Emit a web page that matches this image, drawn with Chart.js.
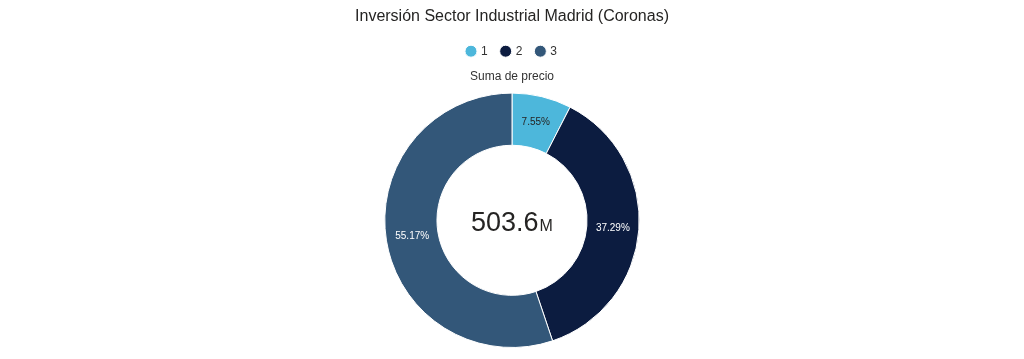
<!DOCTYPE html>
<html>
<head>
<meta charset="utf-8">
<script src="https://cdn.jsdelivr.net/npm/chart.js@4/dist/chart.umd.min.js"></script>
<style>
html,body{margin:0;padding:0;background:#fff;}
#wrap{width:1024px;height:359px;position:relative;}
</style>
</head>
<body>
<div id="wrap"><canvas id="c" width="1024" height="359"></canvas></div>
<script>
const categories = ['1', '2', '3'];
const values = [38.01, 187.78, 277.83]; // millions (Coronas)
const colors = ['#4DB7DB', '#0C1C40', '#335779'];
const labelColors = ['#252423', '#FFFFFF', '#FFFFFF'];
const titleText = 'Inversión Sector Industrial Madrid (Coronas)';
const subtitleText = 'Suma de precio';

Chart.defaults.font.family = '"Liberation Sans", Arial, sans-serif';
Chart.defaults.color = '#333333';

const total = values.reduce((a, b) => a + b, 0);

const sliceLabels = {
  id: 'sliceLabels',
  afterDatasetsDraw(chart) {
    const ctx = chart.ctx;
    const meta = chart.getDatasetMeta(0);
    ctx.save();
    ctx.font = '10px "Liberation Sans", Arial, sans-serif';
    ctx.textAlign = 'center';
    ctx.textBaseline = 'middle';
    meta.data.forEach((arc, i) => {
      const p = arc.getProps(['x', 'y', 'startAngle', 'endAngle', 'innerRadius', 'outerRadius'], true);
      const mid = (p.startAngle + p.endAngle) / 2;
      const r = (p.innerRadius + p.outerRadius) / 2;
      const pct = (values[i] / total * 100).toFixed(2) + '%';
      ctx.fillStyle = labelColors[i];
      ctx.fillText(pct, p.x + Math.cos(mid) * r, p.y + Math.sin(mid) * r);
    });
    ctx.restore();
  }
};

const centerText = {
  id: 'centerText',
  afterDatasetsDraw(chart) {
    const ctx = chart.ctx;
    const arc = chart.getDatasetMeta(0).data[0];
    const cx = arc.x, cy = arc.y;
    const main = total.toFixed(1);
    const suffix = 'M';
    ctx.save();
    ctx.fillStyle = '#252423';
    ctx.textBaseline = 'alphabetic';
    ctx.font = '27px "Liberation Sans", Arial, sans-serif';
    const w1 = ctx.measureText(main).width;
    ctx.font = '16px "Liberation Sans", Arial, sans-serif';
    const w2 = ctx.measureText(suffix).width;
    const gap = 1;
    const start = cx - (w1 + gap + w2) / 2;
    const base = cy + 10.5;
    ctx.textAlign = 'left';
    ctx.font = '27px "Liberation Sans", Arial, sans-serif';
    ctx.fillText(main, start, base);
    ctx.font = '16px "Liberation Sans", Arial, sans-serif';
    ctx.fillText(suffix, start + w1 + gap, base);
    ctx.restore();
  }
};

new Chart(document.getElementById('c'), {
  type: 'doughnut',
  data: {
    labels: categories,
    datasets: [{
      data: values,
      backgroundColor: colors,
      borderColor: '#ffffff',
      borderWidth: 1,
      hoverOffset: 0
    }]
  },
  options: {
    responsive: false,
    animation: false,
    cutout: '59%',
    layout: { padding: { bottom: 11 } },
    plugins: {
      title: {
        display: true,
        text: titleText,
        color: '#252423',
        font: { size: 16, weight: 'normal' },
        padding: { top: 7, bottom: 5 }
      },
      legend: {
        display: true,
        position: 'top',
        weight: 1600,
        labels: {
          usePointStyle: true,
          pointStyle: 'circle',
          boxWidth: 8,
          boxHeight: 8.5,
          padding: 14,
          color: '#333333',
          font: { size: 12 }
        }
      },
      subtitle: {
        display: true,
        text: subtitleText,
        color: '#333333',
        font: { size: 12, weight: 'normal' },
        padding: { top: 2, bottom: 9 }
      },
      tooltip: { enabled: false }
    }
  },
  plugins: [sliceLabels, centerText]
});
</script>
</body>
</html>
